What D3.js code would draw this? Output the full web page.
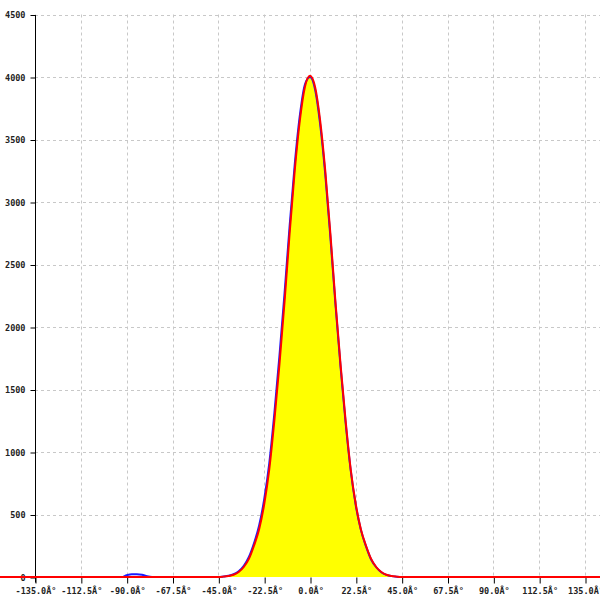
<!DOCTYPE html>
<html><head><meta charset="utf-8">
<script src="https://cdn.jsdelivr.net/npm/d3@7"></script>
<style>body{margin:0;background:#fff}svg{display:block}</style>
</head><body>
<svg id="c" width="600" height="600"></svg>
<script>
const xTicks = [-135, -112.5, -90, -67.5, -45, -22.5, 0, 22.5, 45, 67.5, 90, 112.5, 135];
const xTickLabels = ["-135.0Â°","-112.5Â°","-90.0Â°","-67.5Â°","-45.0Â°","-22.5Â°","0.0Â°","22.5Â°","45.0Â°","67.5Â°","90.0Â°","112.5Â°","135.0Â°"];
const yTicks = [0, 500, 1000, 1500, 2000, 2500, 3000, 3500, 4000, 4500];
const angles = [-180,-150,-120,-95,-92.5,-90,-87.5,-85,-82.5,-80,-77.5,-60,-45,-42.5,-40,-37.5,-35,-32.5,-30,-27.5,-25,-22.5,-20,-17.5,-15,-12.5,-10,-7.5,-5,-2.5,0,2.5,5,7.5,10,12.5,15,17.5,20,22.5,25,27.5,30,32.5,35,37.5,40,42.5,45,60,90,120,150,180];
const redValues = [0,0,0,0,0,0,0,0,0,0,0,0,0,3,8,18,40,80,145,250,380,580,860,1250,1700,2200,2750,3250,3650,3920,4010,3920,3650,3250,2750,2200,1700,1250,860,580,380,250,145,80,40,18,8,3,0,0,0,0,0,0];
const blueValues = [0,0,0,0,0,14,22,22,18,6,0,0,0,4,10,22,46,90,160,270,410,620,910,1310,1770,2270,2810,3300,3690,3940,4000,3900,3620,3220,2720,2180,1680,1230,850,570,375,245,140,78,38,17,7,2,0,0,0,0,0,0];

const svg = d3.select("#c");
const x = d3.scaleLinear().domain([-135, 135]).range([35, 585]);
const y = d3.scaleLinear().domain([0, 4500]).range([577, 14.5]);
const font = "'DejaVu Sans Mono', monospace";

// grid
svg.append("g").selectAll("line").data(xTicks).join("line")
  .attr("x1", d => Math.round(x(d)) + 0.5).attr("x2", d => Math.round(x(d)) + 0.5)
  .attr("y1", y(4500)).attr("y2", y(0))
  .attr("stroke", "#c8c8c8").attr("stroke-dasharray", "3,3");
svg.append("g").selectAll("line").data(yTicks.slice(1)).join("line")
  .attr("x1", 35).attr("x2", 600)
  .attr("y1", d => Math.round(y(d)) + 0.5).attr("y2", d => Math.round(y(d)) + 0.5)
  .attr("stroke", "#c8c8c8").attr("stroke-dasharray", "3,3");

// axes
const xAxis = d3.axisBottom(x).tickValues(xTicks).tickSize(6).tickPadding(4)
  .tickFormat((d, i) => xTickLabels[i]);
const gx = svg.append("g").attr("transform", "translate(0.5,577.5)").call(xAxis);
gx.select(".domain").remove();
gx.selectAll("text").attr("font-family", font).attr("font-size", 8.5).attr("font-weight", "bold").attr("fill", "#222");
gx.selectAll("line").attr("stroke", "#000");

const yAxis = d3.axisLeft(y).tickValues(yTicks).tickSize(5).tickPadding(5).tickFormat(d3.format("d"));
const gy = svg.append("g").attr("transform", "translate(35.5,0.5)").call(yAxis);
gy.select(".domain").attr("d", `M0,${y(4500)}V${y(0)+5}`).attr("stroke", "#000");
gy.selectAll("text").attr("font-family", font).attr("font-size", 8.5).attr("font-weight", "bold").attr("fill", "#222");
gy.selectAll("line").attr("stroke", "#000");

const redData = angles.map((a, i) => [a, redValues[i]]);
const blueData = angles.map((a, i) => [a, blueValues[i]]);

svg.append("path").datum(redData)
  .attr("d", d3.area().x(d => x(d[0])).y0(y(0)).y1(d => y(d[1])).curve(d3.curveMonotoneX))
  .attr("fill", "#ffff00");
svg.append("path").datum(blueData)
  .attr("d", d3.line().x(d => x(d[0])).y(d => y(d[1])).curve(d3.curveMonotoneX))
  .attr("fill", "none").attr("stroke", "#1a1aff").attr("stroke-width", 2);
svg.append("path").datum(redData)
  .attr("d", d3.line().x(d => x(d[0])).y(d => y(d[1])).curve(d3.curveMonotoneX))
  .attr("fill", "none").attr("stroke", "#ff0000").attr("stroke-width", 2);
</script>
</body></html>
